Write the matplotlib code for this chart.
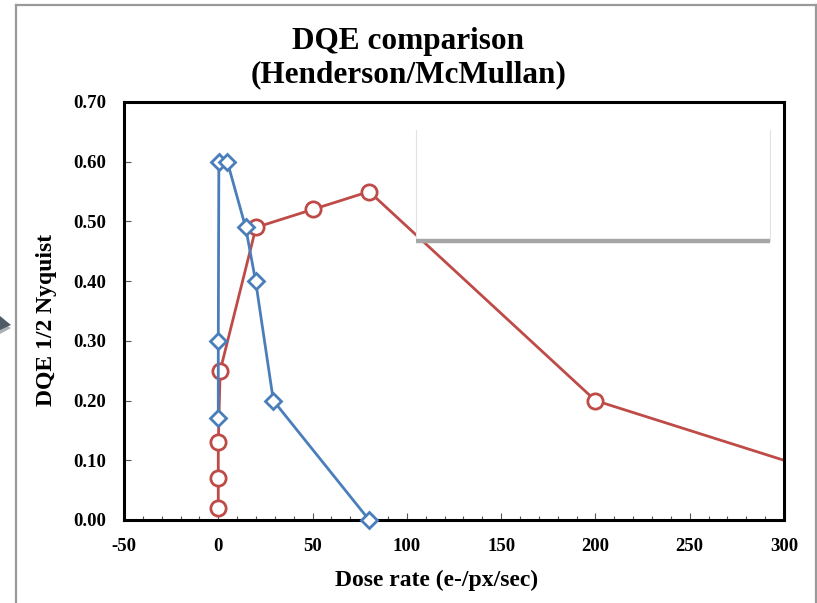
import matplotlib
matplotlib.use("Agg")
import matplotlib.pyplot as plt
from matplotlib.lines import Line2D
from matplotlib.patches import Polygon, Rectangle
from matplotlib.ticker import MultipleLocator, FormatStrFormatter

# Dose rate (e-/px/sec) vs DQE at 1/2 Nyquist
blue_rate = [0, 0, 0.3, 4.8, 14.5, 19.8, 29.2, 80]
blue_dqe = [0.17, 0.30, 0.60, 0.60, 0.49, 0.40, 0.20, 0.00]

red_rate = [0, 0, 0, 1.0, 20, 50, 80, 200, 400]
red_dqe = [0.02, 0.07, 0.13, 0.25, 0.49, 0.52, 0.55, 0.20, 0.00]

x_limits = (-50, 300)
y_limits = (0, 0.70)

title_text = "DQE comparison\n(Henderson/McMullan)"
x_label = "Dose rate (e-/px/sec)"
y_label = "DQE 1/2 Nyquist"

BLUE = "#4A7EBB"
RED = "#BE4B48"

plt.rcParams["font.family"] = ["Liberation Serif", "DejaVu Serif"]
plt.rcParams["font.weight"] = "bold"
plt.rcParams["axes.unicode_minus"] = False

fig = plt.figure(figsize=(8.17, 6.03), dpi=100)
W, H = 817, 603
ax = fig.add_axes([124 / W, 1 - 520 / H, 660 / W, 418 / H])

ax.plot(blue_rate, blue_dqe, color=BLUE, lw=2.0, marker="D", ms=8.5,
        mfc="white", mec=BLUE, mew=2.0, zorder=3, clip_on=False)
ax.plot(red_rate[:-1], red_dqe[:-1], color=RED, lw=2.0, marker="o", ms=11,
        mfc="white", mec=RED, mew=2.0, zorder=2, clip_on=False, linestyle="none")
ax.plot(red_rate, red_dqe, color=RED, lw=2.0, zorder=1.9)

ax.set_xlim(*x_limits)
ax.set_ylim(*y_limits)
ax.xaxis.set_major_locator(MultipleLocator(50))
ax.xaxis.set_minor_locator(MultipleLocator(10))
ax.yaxis.set_major_locator(MultipleLocator(0.1))
ax.yaxis.set_major_formatter(FormatStrFormatter("%.2f"))
ax.tick_params(axis="both", which="major", direction="in", length=5, width=0.8,
               labelsize=13.5, pad=13, color="#555555")
ax.tick_params(axis="x", which="minor", direction="in", length=3, width=0.8,
               color="#555555")
for lbl in ax.get_xticklabels() + ax.get_yticklabels():
    lbl.set_fontweight("bold")
for sp in ax.spines.values():
    sp.set_linewidth(2.2)
    sp.set_color("black")

ax.set_xlabel(x_label, fontsize=17, fontweight="bold", va="center")
ax.set_ylabel(y_label, fontsize=17, fontweight="bold", va="center")
ax.xaxis.set_label_coords((437 - 124) / 660, (520 - 580) / 418)
ax.yaxis.set_label_coords((47 - 124) / 660, (520 - 320) / 418)
fig.text(0.5, 1 - 58 / H, title_text, ha="center", va="center",
         fontsize=22.5, fontweight="bold", linespacing=1.18)

# empty legend panel in the upper right of the plot area
box_x0, box_x1 = (416 - 124) / 660, (770 - 124) / 660
box_y0, box_y1 = (520 - 241) / 418, (520 - 130) / 418
ax.add_patch(Rectangle((box_x0, box_y0), box_x1 - box_x0, box_y1 - box_y0,
                       transform=ax.transAxes, facecolor="white",
                       edgecolor="none", zorder=4))
for bx in (box_x0, box_x1):
    ax.add_line(Line2D([bx, bx], [box_y0, box_y1], transform=ax.transAxes,
                       color="#E2E2E2", lw=0.8, zorder=5))
ax.add_line(Line2D([box_x0, box_x1], [box_y0, box_y0], transform=ax.transAxes,
                   color="#A6A6A6", lw=3.2, solid_capstyle="butt", zorder=5))

# frame around the chart area
frame_kw = dict(transform=fig.transFigure, color="#9A9A9A", lw=1.6)
fig.add_artist(Line2D([15.5 / W, 15.5 / W], [0, 1 - 4.5 / H], **frame_kw))
fig.add_artist(Line2D([15.5 / W, 815.5 / W], [1 - 4.5 / H, 1 - 4.5 / H], **frame_kw))
fig.add_artist(Line2D([815.5 / W, 815.5 / W], [0, 1 - 4.5 / H], **frame_kw))

# small pointer at the left edge
def fpt(x, y):
    return (x / W, 1 - y / H)

fig.add_artist(Polygon([fpt(0, 322), fpt(11, 328), fpt(0, 334)], closed=True,
                       transform=fig.transFigure, facecolor="#A9B0B6",
                       edgecolor="none"))
fig.add_artist(Polygon([fpt(0, 316), fpt(11, 325), fpt(0, 330)], closed=True,
                       transform=fig.transFigure, facecolor="#4E5B66",
                       edgecolor="none"))

fig.savefig("out.png", dpi=100)
